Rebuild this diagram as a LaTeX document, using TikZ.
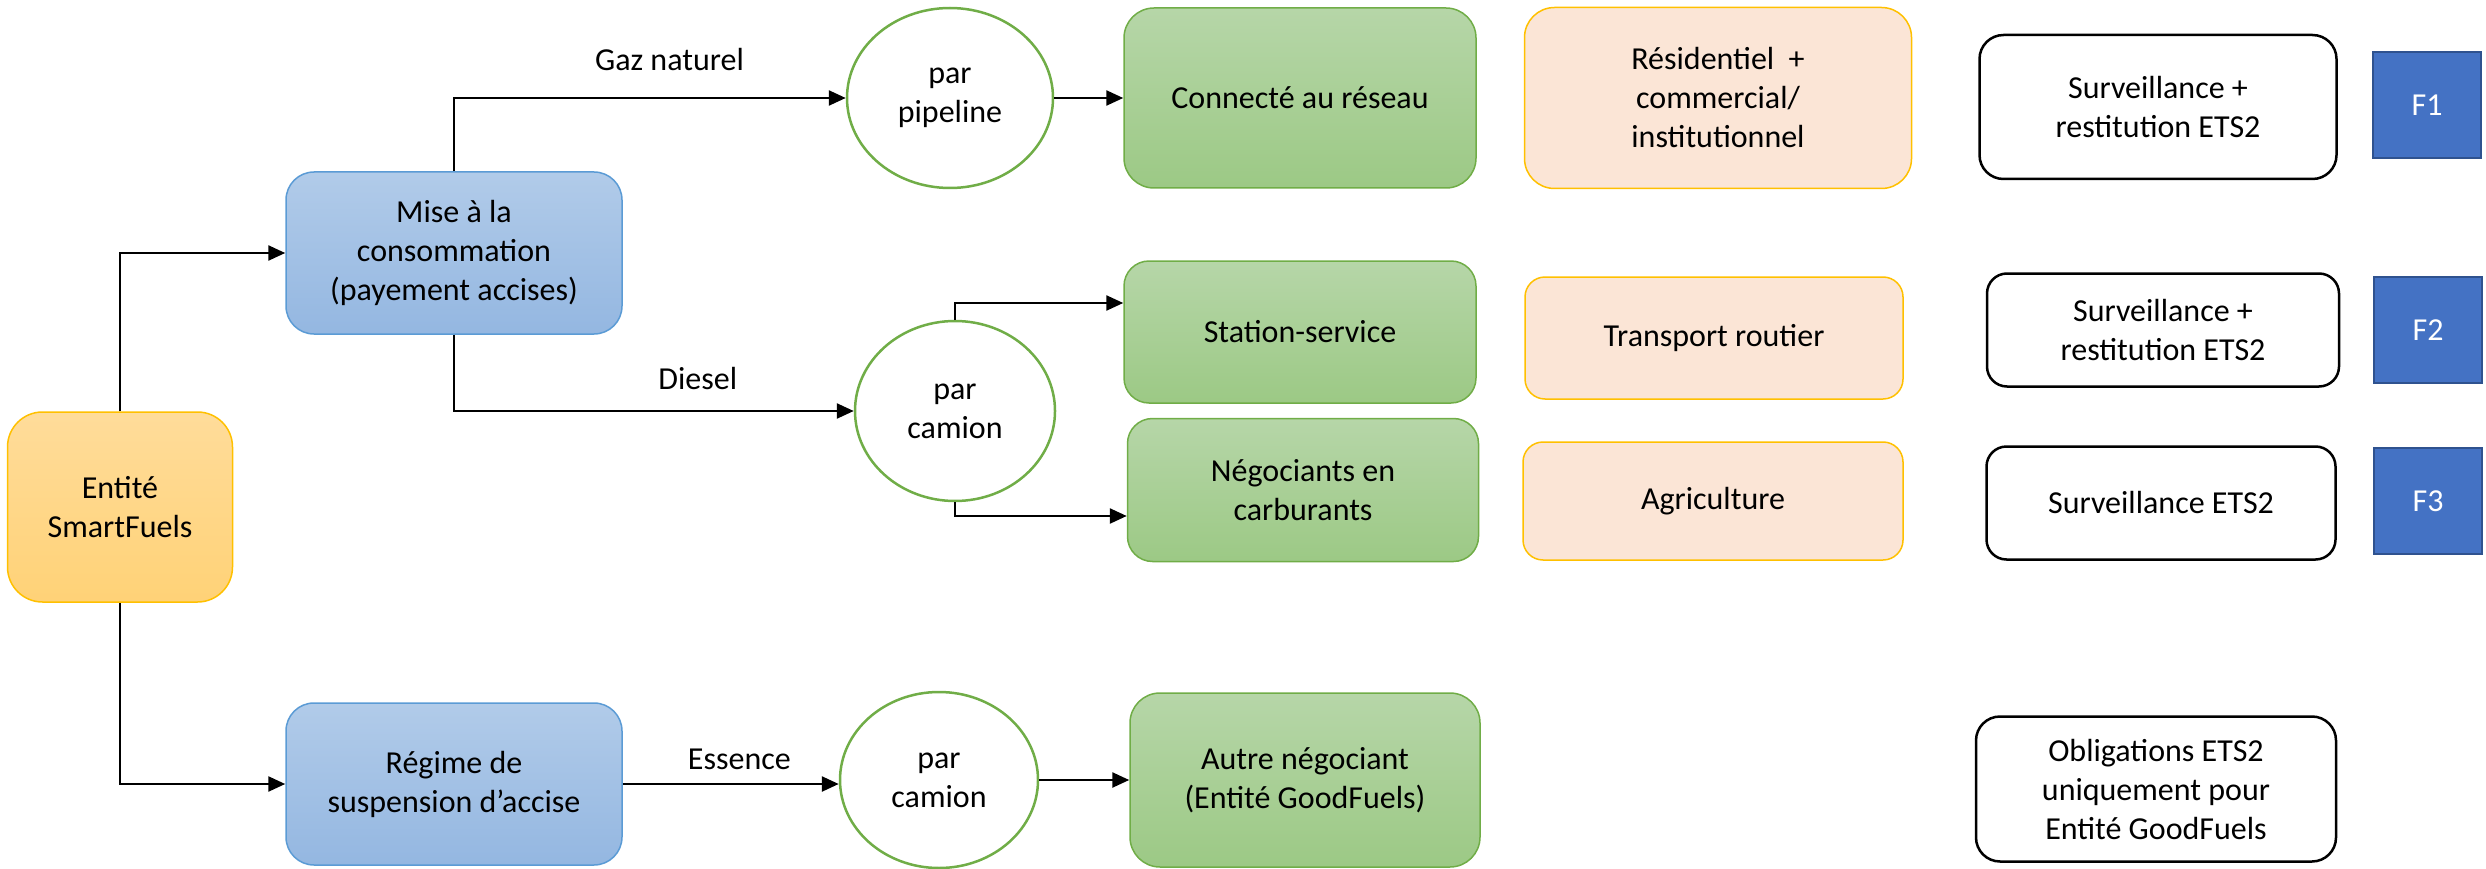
\documentclass[tikz,border=0pt]{standalone}
\usepackage{fontspec}
\setmainfont{Carlito}
\usetikzlibrary{arrows.meta,shapes.geometric}
\definecolor{blueTop}{HTML}{B1CBE9}
\definecolor{blueBot}{HTML}{94B7E1}
\definecolor{blueLine}{HTML}{5B9BD5}
\definecolor{greenTop}{HTML}{B6D6A8}
\definecolor{greenBot}{HTML}{9CC985}
\definecolor{greenLine}{HTML}{70AD47}
\definecolor{entTop}{HTML}{FFDC9A}
\definecolor{entBot}{HTML}{FFD277}
\definecolor{goldLine}{HTML}{FFC000}
\definecolor{peach}{HTML}{FBE5D6}
\definecolor{fblue}{HTML}{4472C4}
\definecolor{fline}{HTML}{2F528F}
\begin{document}
\begin{tikzpicture}[x=1pt,y=-1pt,
  every node/.style={font=\fontsize{32}{39}\selectfont, align=center, inner sep=0pt},
  entbox/.style={draw=goldLine, line width=1.5pt, top color=entTop, bottom color=entBot, rounded corners=35pt},
  bluebox/.style={draw=blueLine, line width=1.5pt, top color=blueTop, bottom color=blueBot, rounded corners=28pt},
  greenbox/.style={draw=greenLine, line width=1.5pt, top color=greenTop, bottom color=greenBot},
  peachbox/.style={draw=goldLine, line width=1.5pt, fill=peach},
  whitebox/.style={draw=black, line width=2.5pt, fill=white},
  fbox/.style={draw=fline, line width=2.5pt, fill=fblue, text=white, minimum width=108pt, minimum height=106pt},
  disc/.style={ellipse, draw=greenLine, line width=2.5pt, fill=white},
  arr/.style={line width=2.5pt, -{Triangle[length=17pt,width=15pt]}},
  lbl/.style={anchor=base}
]
\useasboundingbox (0,0) rectangle (2486,869);

% left column
\node[entbox, minimum width=225pt, minimum height=190pt] (ent) at (120,507) {Entité\\SmartFuels};
\node[bluebox, minimum width=336pt, minimum height=162pt] (mise) at (454,253) {Mise à la\\consommation\\(payement accises)};
\node[bluebox, minimum width=336pt, minimum height=162pt] (regime) at (454,784) {Régime de\\suspension d’accise};

% circles
\node[disc, minimum width=206pt, minimum height=180pt] (pipe) at (950,98) {par\\pipeline};
\node[disc, minimum width=200pt, minimum height=180pt] (cam1) at (955,411) {par\\camion};
\node[disc, minimum width=198pt, minimum height=176pt] (cam2) at (939,780) {par\\camion};

% green boxes
\node[greenbox, rounded corners=30pt, minimum width=352pt, minimum height=180pt] (conn) at (1300,98) {Connecté au réseau};
\node[greenbox, rounded corners=25pt, minimum width=352pt, minimum height=142pt] (station) at (1300,332) {Station-service};
\node[greenbox, rounded corners=25pt, minimum width=351pt, minimum height=143pt] (nego) at (1303,490) {Négociants en\\carburants};
\node[greenbox, rounded corners=30pt, minimum width=350pt, minimum height=174pt] (autre) at (1305,780) {Autre négociant\\(Entité GoodFuels)};

% peach boxes
\node[peachbox, rounded corners=30pt, minimum width=387pt, minimum height=181pt] (res) at (1718,98) {Résidentiel~ +\\commercial/\\institutionnel};
\node[peachbox, rounded corners=20pt, minimum width=378pt, minimum height=122pt] (trans) at (1714,338) {Transport routier};
\node[peachbox, rounded corners=20pt, minimum width=380pt, minimum height=118pt] (agri) at (1713,501) {Agriculture};

% white boxes
\node[whitebox, rounded corners=24pt, minimum width=357pt, minimum height=144pt] (s1) at (2158,107) {Surveillance +\\restitution ETS2};
\node[whitebox, rounded corners=20pt, minimum width=352pt, minimum height=113pt] (s2) at (2163,330) {Surveillance +\\restitution ETS2};
\node[whitebox, rounded corners=20pt, minimum width=349pt, minimum height=113pt] (s3) at (2161,503) {Surveillance ETS2};
\node[whitebox, rounded corners=24pt, minimum width=360pt, minimum height=145pt] (obl) at (2156,789) {Obligations ETS2\\uniquement pour\\Entité GoodFuels};

% F boxes
\node[fbox] (f1) at (2427,105) {F1};
\node[fbox] (f2) at (2428,330) {F2};
\node[fbox] (f3) at (2428,501) {F3};

% connectors
\draw[arr] (ent.north) |- (mise.west);
\draw[arr] (ent.south) |- (regime.west);
\draw[arr] (mise.north) |- (pipe.west) node[lbl, pos=0.775, yshift=27pt] {Gaz naturel};
\draw[arr] (mise.south) |- (cam1.west) node[lbl, pos=0.805, yshift=22pt] {Diesel};
\draw[arr] (pipe.east) -- (conn.west);
\draw[arr] (cam1.north) |- ([yshift=29pt]station.west);
\draw[arr] (cam1.south) |- ([yshift=-26pt]nego.west);
\draw[arr] (regime.east) -- (regime.east -| cam2.west) node[lbl, pos=0.54, yshift=15pt] {Essence};
\draw[arr] (cam2.east) -- (autre.west);
\end{tikzpicture}
\end{document}
